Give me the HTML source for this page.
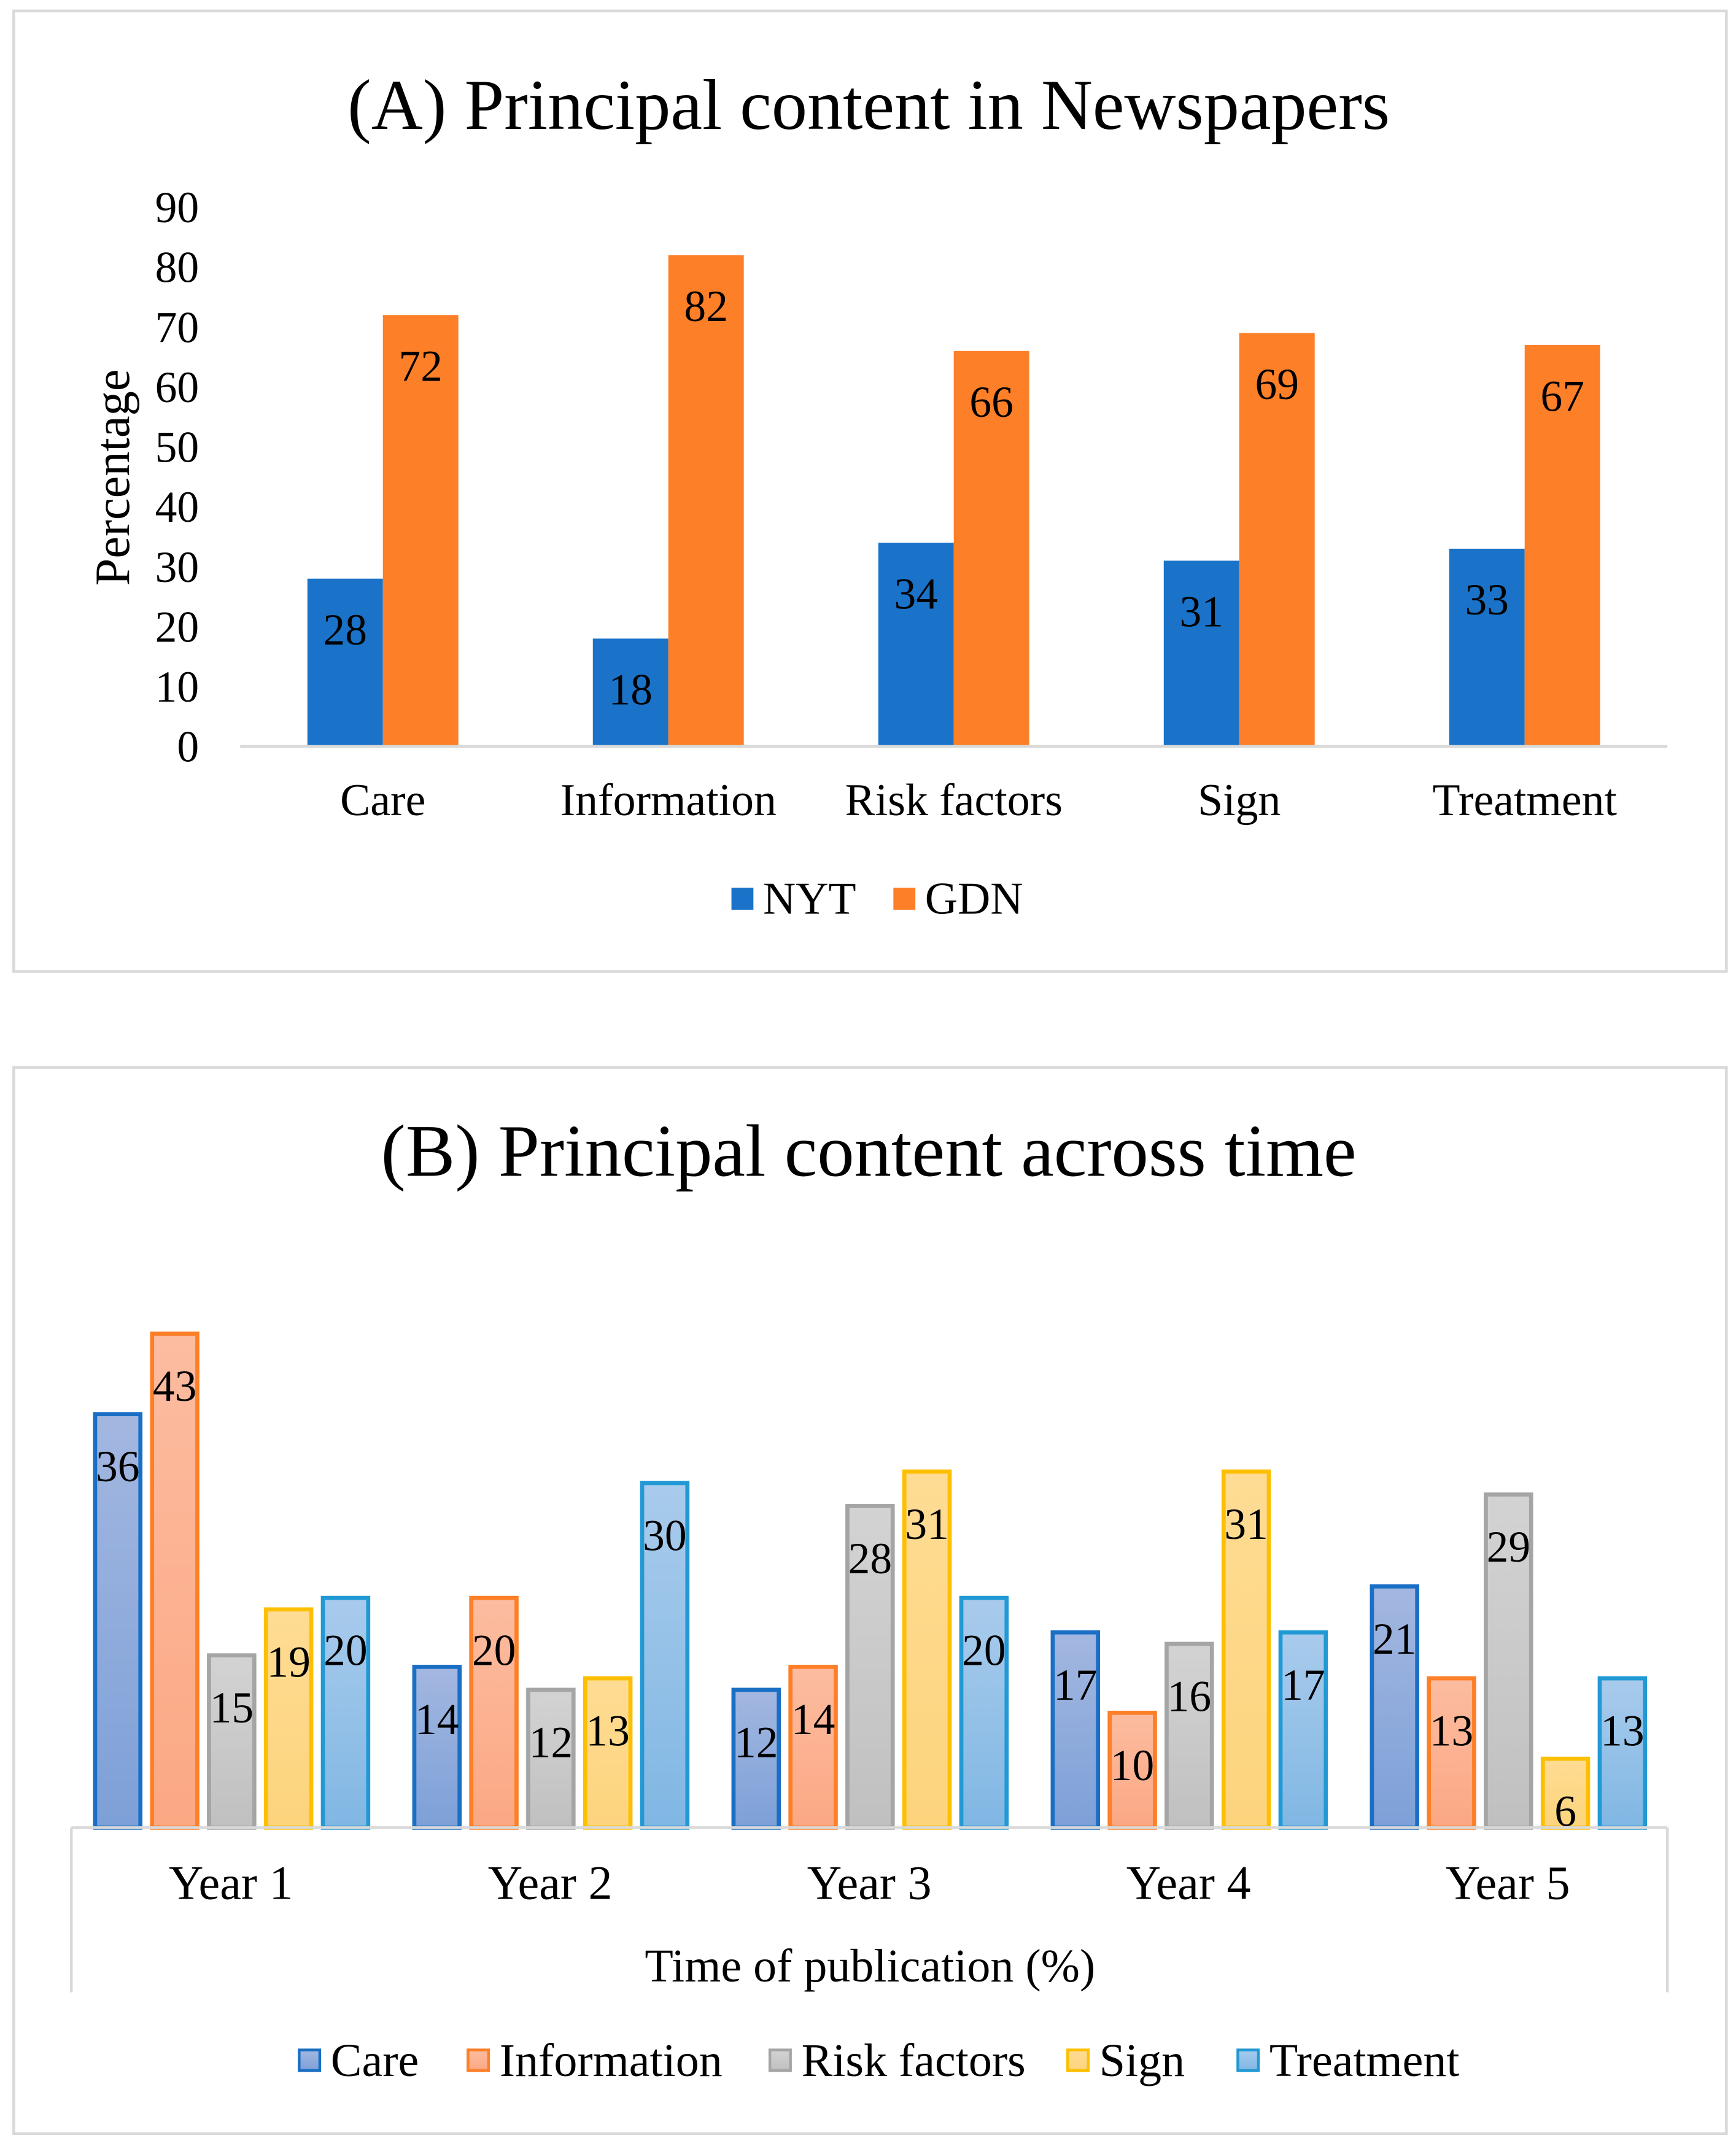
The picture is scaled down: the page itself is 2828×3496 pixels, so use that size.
<!DOCTYPE html>
<html><head><meta charset="utf-8"><style>
html,body{margin:0;padding:0;background:#fff}
svg{display:block}
text{font-family:"Liberation Serif",serif;fill:#000}
</style></head><body>
<svg id="chart" width="2828" height="3496" viewBox="0 0 1265 1564" preserveAspectRatio="none" xmlns="http://www.w3.org/2000/svg">
<defs>
<linearGradient id="gCare" x1="0" y1="0" x2="0" y2="1"><stop offset="0" stop-color="#a3b7e0"/><stop offset="1" stop-color="#7da0d8"/></linearGradient>
<linearGradient id="gInfo" x1="0" y1="0" x2="0" y2="1"><stop offset="0" stop-color="#fcbca0"/><stop offset="1" stop-color="#fba883"/></linearGradient>
<linearGradient id="gRisk" x1="0" y1="0" x2="0" y2="1"><stop offset="0" stop-color="#d3d3d3"/><stop offset="1" stop-color="#c0c0c0"/></linearGradient>
<linearGradient id="gSign" x1="0" y1="0" x2="0" y2="1"><stop offset="0" stop-color="#fedc94"/><stop offset="1" stop-color="#fdd47c"/></linearGradient>
<linearGradient id="gTreat" x1="0" y1="0" x2="0" y2="1"><stop offset="0" stop-color="#a9cbec"/><stop offset="1" stop-color="#80b7e3"/></linearGradient>
</defs>
<rect x="10" y="8" width="1248" height="700" fill="#fff" stroke="#d9d9d9" stroke-width="2"/>
<text x="633" y="94" font-size="52" text-anchor="middle">(A) Principal content in Newspapers</text>
<text transform="translate(94,348) rotate(-90)" font-size="36" text-anchor="middle">Percentage</text>
<g id="a-ticks"></g><g id="a-bars"></g>
<line x1="175" y1="544" x2="1215" y2="544" stroke="#d9d9d9" stroke-width="2"/>
<rect x="533" y="647" width="16" height="16" fill="#1a73c8"/>
<text x="556" y="666" font-size="33">NYT</text>
<rect x="651" y="647" width="16" height="16" fill="#fd7f28"/>
<text x="674" y="666" font-size="33">GDN</text>

<rect x="10" y="778" width="1248" height="777" fill="#fff" stroke="#d9d9d9" stroke-width="2"/>
<text x="633" y="857" font-size="54" text-anchor="middle">(B) Principal content across time</text>
<g id="b-bars"></g>
<line x1="52" y1="1332" x2="1215" y2="1332" stroke="#d9d9d9" stroke-width="2"/>
<line x1="52" y1="1332" x2="52" y2="1452" stroke="#d9d9d9" stroke-width="2"/>
<line x1="1215" y1="1332" x2="1215" y2="1452" stroke="#d9d9d9" stroke-width="2"/>
<text x="634" y="1444" font-size="34" text-anchor="middle">Time of publication (%)</text>
<g id="b-legend"></g>
<script>
const catsA = ["Care","Information","Risk factors","Sign","Treatment"];
const nyt = [28,18,34,31,33];
const gdn = [72,82,66,69,67];
const ticksA = [0,10,20,30,40,50,60,70,80,90];
const years = ["Year 1","Year 2","Year 3","Year 4","Year 5"];
const seriesNames = ["Care","Information","Risk factors","Sign","Treatment"];
const care = [36,14,12,17,21];
const info = [43,20,14,10,13];
const risk = [15,12,28,16,29];
const sign = [19,13,31,31,6];
const treat = [20,30,20,17,13];

const NS="http://www.w3.org/2000/svg";
function mk(tag,attrs,parent,txt){const e=document.createElementNS(NS,tag);for(const k in attrs)e.setAttribute(k,attrs[k]);if(txt!==undefined)e.textContent=txt;parent.appendChild(e);return e;}
// Panel A
const yA=v=>544-v*(393/90);
const xA=i=>175+208*i+104;
const gt=document.getElementById('a-ticks');
ticksA.forEach(t=>{const e=mk('text',{x:145,y:yA(t)+11,'font-size':32,'text-anchor':'end'},gt,t);

});
const ga=document.getElementById('a-bars');
catsA.forEach((c,i)=>{
 const cx=xA(i);
 [[nyt,'#1a73c8',cx-55,'nyt'],[gdn,'#fd7f28',cx,'gdn']].forEach(([arr,col,x,nm])=>{
  const r=mk('rect',{x:x,y:yA(arr[i]),width:55,height:544-yA(arr[i]),fill:col},ga);
  
  
  const t=mk('text',{x:x+27.5,y:yA(arr[i])+48,'font-size':32,'text-anchor':'middle'},ga,arr[i]);
  
  
 });
 const l=mk('text',{x:cx,y:594,'font-size':33,'text-anchor':'middle'},ga,c);
 
 
});
// Panel B
const yB=v=>1332-v*(360/43);
const xB=i=>52+232.6*i+116.3;
const series=[care,info,risk,sign,treat];
const fills=['url(#gCare)','url(#gInfo)','url(#gRisk)','url(#gSign)','url(#gTreat)'];
const strokes=['#1a6fc4','#fd7f28','#a5a5a5','#fdbf00','#2199d4'];
const gb=document.getElementById('b-bars');
years.forEach((yl,i)=>{
 const cx=xB(i);
 series.forEach((arr,s)=>{
  const x=cx-99+s*41.5;
  const r=mk('rect',{x:x,y:yB(arr[i]),width:33,height:1332-yB(arr[i]),fill:fills[s],stroke:strokes[s],'stroke-width':3},gb);
  
  
  const t=mk('text',{x:x+16.5,y:yB(arr[i])+49,'font-size':32,'text-anchor':'middle'},gb,arr[i]);
  
  
 });
 const l=mk('text',{x:cx,y:1384,'font-size':35,'text-anchor':'middle'},gb,yl);
 
 
});
const gl=document.getElementById('b-legend');
const lx=[218,341,561,778,902];
seriesNames.forEach((n,s)=>{
 const r=mk('rect',{x:lx[s],y:1494,width:15,height:15,fill:fills[s],stroke:strokes[s],'stroke-width':2},gl);
 
 
 const t=mk('text',{x:lx[s]+23,y:1513,'font-size':34},gl,n);
 
 
});
</script>
</svg>
</body></html>
